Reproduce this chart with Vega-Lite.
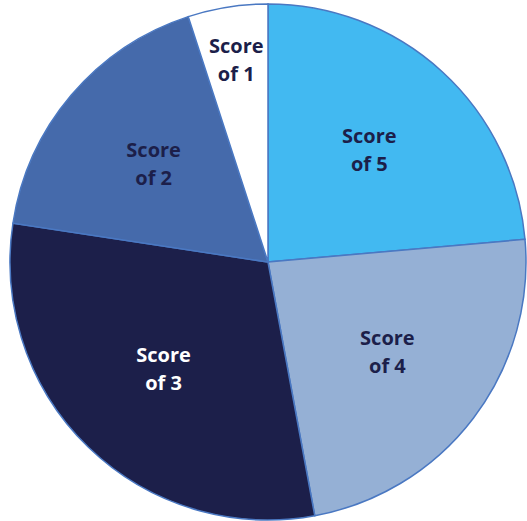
{
  "$schema": "https://vega.github.io/schema/vega-lite/v6.json",
  "width": 516,
  "height": 516,
  "autosize": {"type": "none"},
  "padding": {"left": 10, "top": 4, "right": 1, "bottom": 1},
  "background": "white",
  "config": {"view": {"stroke": null}},
  "data": {
    "values": [
      {"score": "Score of 5", "label": "Score\nof 5", "value": 23.6, "order": 1},
      {"score": "Score of 4", "label": "Score\nof 4", "value": 23.5, "order": 2},
      {"score": "Score of 3", "label": "Score\nof 3", "value": 30.3, "order": 3},
      {"score": "Score of 2", "label": "Score\nof 2", "value": 17.6, "order": 4},
      {"score": "Score of 1", "label": "Score\nof 1", "value": 5.0, "order": 5}
    ]
  },
  "encoding": {
    "theta": {"field": "value", "type": "quantitative", "stack": true},
    "order": {"field": "order", "type": "quantitative"}
  },
  "layer": [
    {
      "mark": {"type": "arc", "outerRadius": 258, "stroke": "#4A78C2", "strokeWidth": 1.5},
      "encoding": {
        "color": {
          "field": "score",
          "type": "nominal",
          "legend": null,
          "scale": {
            "domain": ["Score of 5", "Score of 4", "Score of 3", "Score of 2", "Score of 1"],
            "range": ["#42B9F1", "#95B0D5", "#1C1F4A", "#456AAB", "#FFFFFF"]
          }
        }
      }
    },
    {
      "mark": {"type": "text", "radius": 150, "dy": -14, "font": "Open Sans", "fontWeight": "bold", "fontSize": 20, "lineBreak": "\n", "lineHeight": 28, "baseline": "middle"},
      "encoding": {
        "text": {"condition": {"test": "datum.order == 5", "value": ""}, "field": "label"},
        "color": {"condition": {"test": "datum.order == 3", "value": "#FFFFFF"}, "value": "#1C1F4A"}
      }
    },
    {
      "mark": {"type": "text", "radius": 203, "dy": -14, "font": "Open Sans", "fontWeight": "bold", "fontSize": 20, "lineBreak": "\n", "lineHeight": 28, "baseline": "middle", "color": "#1C1F4A"},
      "encoding": {
        "text": {"condition": {"test": "datum.order != 5", "value": ""}, "field": "label"}
      }
    }
  ]
}
